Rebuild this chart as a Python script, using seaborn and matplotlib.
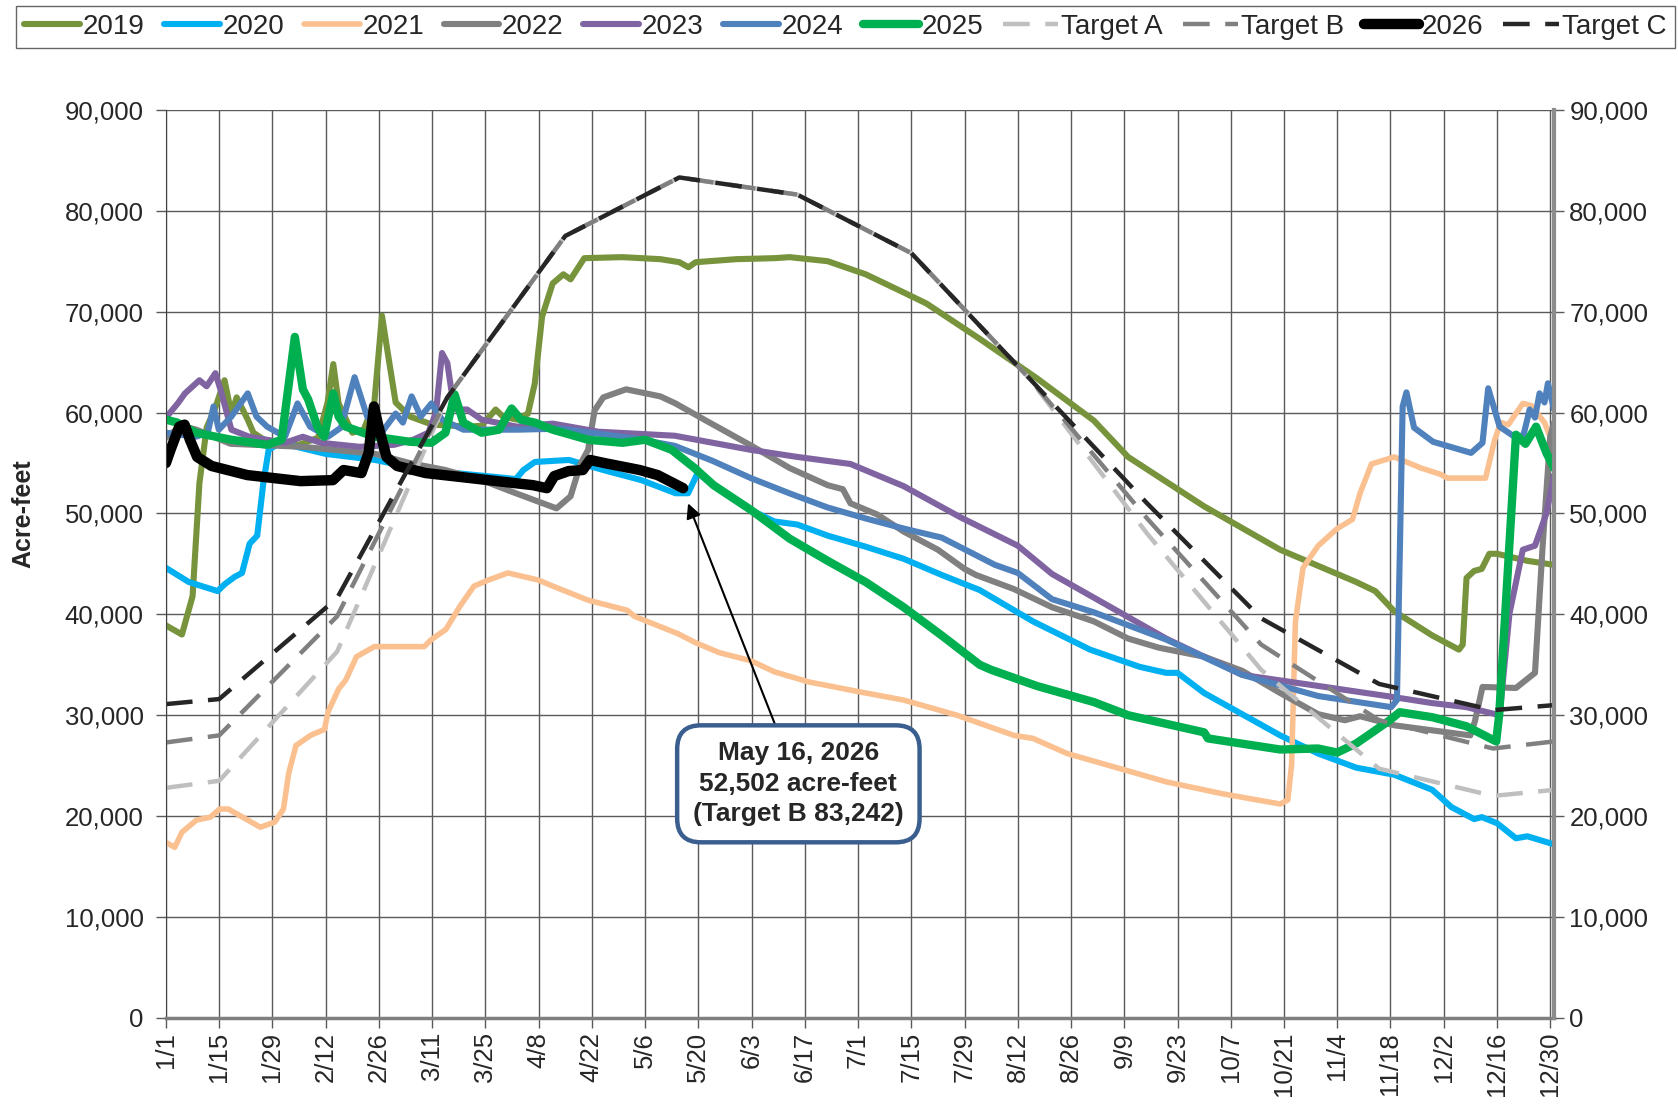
import matplotlib
matplotlib.use('Agg')
import matplotlib.pyplot as plt
import matplotlib.ticker as mticker
import seaborn as sns

# day of year (0 = 1/1, leap-year calendar) and storage in acre-feet
days_2019 = [0, 4.2, 7, 8.8, 10.7, 13, 15.4, 17.2, 18.6, 21.5, 23, 27, 35, 40, 42.5, 44, 45.4, 49, 52,
             54.8, 56.8, 58.5, 60.4, 64.2, 70, 80, 83, 86.7, 88.6, 92.3, 95.2, 97, 98.9, 101.7, 104.5,
             106.4, 110, 120, 130, 135, 137.4, 139.3, 150, 160, 164, 174, 184, 194, 200, 214, 229,
             244, 253, 273, 293, 313, 318, 323, 333, 336, 340, 341, 342, 344, 346, 348, 350, 358, 365]
vals_2019 = [38900, 38000, 41800, 53000, 58500, 60500, 63200, 59900, 61500, 59300, 58000, 57000, 56800,
             57500, 61000, 64800, 60900, 58000, 58300, 61000, 69600, 65500, 61000, 59600, 58800, 58600,
             58700, 60300, 59600, 59300, 59900, 62900, 69500, 72800, 73700, 73200, 75300, 75400, 75200,
             74900, 74400, 74900, 75200, 75300, 75400, 75000, 73700, 71900, 70800, 67300, 63400, 59200,
             55600, 50700, 46400, 43200, 42300, 40300, 37900, 37300, 36500, 37000, 43600, 44300, 44500,
             46000, 46000, 45300, 44900]

days_2020 = [0, 6, 13.6, 15.5, 18, 20, 22, 24, 25.6, 27, 30, 42, 55, 68, 87, 92, 94, 97, 106, 115, 125,
             134, 137.3, 139.8, 144, 154, 160, 166, 174, 184, 194, 204, 214, 228, 243, 256, 263, 266,
             273, 283, 293, 303, 313, 323, 333, 338, 344, 346, 350, 355, 358, 365]
vals_2020 = [44600, 43200, 42300, 43000, 43700, 44100, 47000, 47800, 53000, 56300, 57000, 55900, 55300,
             54300, 53600, 53400, 54300, 55100, 55300, 54300, 53300, 52000, 52000, 54000, 52800, 50300,
             49200, 48900, 47800, 46700, 45500, 43900, 42400, 39300, 36500, 34800, 34200, 34200, 32200,
             30100, 28000, 26200, 24800, 24100, 22600, 20900, 19700, 19900, 19300, 17800, 18000, 17200]

days_2021 = [0, 2.3, 4.2, 8, 11.7, 14.1, 16.4, 24.8, 28.6, 30.9, 32.3, 34.2, 38, 41.7, 42.6, 45.4, 47.3,
             50.1, 54.8, 67.9, 69.8, 73.6, 77.3, 81, 84.8, 89.9, 97.9, 101.7, 111, 121.3, 123.2, 134.5,
             139.2, 145.5, 153.8, 160, 169, 184, 194, 208, 223, 228, 237, 250, 263, 278, 293, 295, 296,
             297, 299, 303, 308, 312, 314, 317, 323, 330, 335, 337, 347, 349.4, 351, 353, 356.8, 359,
             362.5, 365]
vals_2021 = [17400, 16900, 18400, 19600, 19900, 20700, 20700, 18900, 19400, 20700, 24300, 27000, 28000,
             28600, 30300, 32600, 33500, 35800, 36800, 36800, 37500, 38500, 40800, 42800, 43400, 44100,
             43400, 42800, 41400, 40400, 39800, 38100, 37200, 36200, 35400, 34300, 33300, 32200, 31500,
             30000, 28000, 27700, 26200, 24800, 23400, 22200, 21200, 21600, 25100, 39300, 44600, 46800,
             48500, 49400, 52000, 54900, 55600, 54500, 53900, 53500, 53500, 57300, 59000, 58800, 60900,
             60700, 59000, 56600]

days_2022 = [0, 4, 8, 17, 36, 55, 64, 73.5, 83, 92, 102.7, 106.4, 109, 111, 112.7, 115, 121, 130, 134,
             142, 154, 164, 174, 178, 180, 187, 194, 203, 210, 213, 223, 233, 244, 253, 261, 273, 283,
             293, 303, 310, 314, 323, 333, 343, 344.2, 346.2, 355, 360, 362, 364, 365]
vals_2022 = [57500, 58700, 58300, 56900, 56600, 55900, 55000, 54300, 53300, 52000, 50500, 51700, 54900,
             56300, 60200, 61500, 62300, 61600, 60900, 59200, 56700, 54500, 52800, 52400, 51000, 49900,
             48200, 46400, 44500, 43900, 42500, 40700, 39300, 37600, 36700, 35800, 34400, 32200, 30100,
             29500, 29900, 29000, 28500, 28000, 29400, 32800, 32700, 34200, 46700, 57600, 59000]

days_2023 = [0, 3.1, 5, 8.8, 10.7, 13, 14.4, 17.2, 21.9, 31.3, 36, 40.7, 51, 60, 65, 69, 71, 72.6, 74,
             75, 76.4, 79.2, 83, 92.3, 101.7, 113.7, 133.8, 153.8, 166, 180, 194, 209, 224, 233, 248,
             263, 283, 303, 321, 333, 342, 350.7, 353.3, 356.8, 360, 363, 365]
vals_2023 = [59500, 60900, 61900, 63200, 62600, 63900, 62200, 58300, 57600, 57000, 57600, 57000, 56600,
             56800, 57300, 58000, 60000, 65900, 64900, 62300, 60300, 60300, 59300, 58600, 58900, 58100,
             57700, 56300, 55600, 54900, 52700, 49600, 46800, 44000, 40800, 37600, 34000, 32900, 31900,
             31200, 30800, 30000, 40100, 46400, 46800, 50000, 53800]

days_2024 = [0, 7.8, 11, 12.5, 13.9, 17.2, 21.5, 23.8, 26.6, 31.3, 34.6, 37.9, 42.6, 46, 49.6, 52.9,
             56.7, 60.4, 62.3, 64.6, 67, 69.8, 72.6, 78.2, 92.3, 103.7, 123.7, 133.8, 143.8, 153.8,
             163.9, 173.9, 184, 194, 204, 218, 224, 233, 244, 263, 283, 303, 322.2, 323.7, 325.2, 326.2,
             328.2, 333.2, 343.2, 346.2, 347.7, 350.7, 355, 357, 358.6, 360, 361.2, 362.5, 363.4, 365]
vals_2024 = [58000, 57600, 58000, 60600, 58300, 59600, 61900, 59600, 58600, 57600, 60900, 58600, 57600,
             58500, 63500, 59600, 58000, 59900, 59000, 61600, 59600, 60900, 59300, 58300, 58300, 58400,
             57400, 56700, 55200, 53500, 52000, 50600, 49500, 48500, 47600, 44900, 44100, 41500, 40200,
             37500, 34000, 31900, 30800, 31500, 60600, 62000, 58500, 57100, 56000, 57000, 62400, 58600,
             57500, 57800, 60300, 59500, 61900, 61000, 62900, 60300]

days_2025 = [0, 3, 7.8, 17.2, 26.6, 30.4, 33.9, 36, 37.4, 39.8, 41.6, 44, 45.4, 47.3, 54.8, 64.2, 69.8,
             73.5, 75.9, 78.2, 83, 87.6, 90.9, 93.3, 97, 101.7, 111, 120, 126, 133, 139, 144, 154, 164,
             174, 184, 194, 204, 214, 217, 229, 244, 253, 273, 274, 293, 303, 308, 313, 318, 321.8,
             324.4, 333, 342, 349.8, 350.6, 355, 357.5, 360.3, 363, 365]
vals_2025 = [59300, 59000, 58000, 57300, 56800, 57300, 67500, 62300, 61300, 58600, 57600, 61900, 59600,
             58600, 57600, 57100, 57000, 58000, 61800, 59000, 58000, 58300, 60400, 59300, 59000, 58300,
             57300, 57000, 57300, 56300, 54500, 52800, 50300, 47500, 45300, 43200, 40700, 37900, 35000,
             34500, 32900, 31300, 30000, 28300, 27700, 26600, 26700, 26300, 27200, 28500, 29500, 30300,
             29800, 28900, 27400, 30100, 57800, 56900, 58600, 56000, 54500]

days_2026 = [0, 1.2, 3.5, 4.9, 6.3, 8.2, 12, 21.4, 35.4, 43.9, 46.7, 51.4, 53.3, 54.7, 55.9, 58, 60.8,
             68.3, 87.1, 96.5, 100.2, 102.1, 105.9, 109.6, 111.5, 115.2, 124.6, 129.3, 136]
vals_2026 = [55000, 56300, 58600, 58800, 57300, 55600, 54700, 53800, 53200, 53300, 54300, 54000, 56000,
             60600, 58600, 55600, 54700, 54000, 53200, 52800, 52500, 53700, 54200, 54300, 55300, 55000,
             54300, 53800, 52502]

# targets, set on the 15th of each month
target_days = [0, 14, 45, 74, 105, 135, 166, 196, 227, 258, 288, 319, 349, 365]
target_a = [22800, 23500, 36300, 61500, 77500, 83300, 81600, 75800, 63400, 48000, 34500, 24700, 22000, 22600]
target_b = [27300, 28000, 39800, 61500, 77500, 83300, 81600, 75800, 63400, 49500, 37000, 29500, 26700, 27400]
target_c = [31100, 31600, 41600, 61500, 77500, 83300, 81600, 75800, 63400, 51000, 39600, 33100, 30500, 31000]

tick_labels = ['1/1', '1/15', '1/29', '2/12', '2/26', '3/11', '3/25', '4/8', '4/22', '5/6', '5/20',
               '6/3', '6/17', '7/1', '7/15', '7/29', '8/12', '8/26', '9/9', '9/23', '10/7', '10/21',
               '11/4', '11/18', '12/2', '12/16', '12/30']

sns.set_style('ticks')
plt.rcParams['font.family'] = ['Liberation Sans', 'DejaVu Sans']

fig = plt.figure(figsize=(16.78, 11.04), dpi=100)
ax = fig.add_axes([0.0989, 0.078, 0.8272, 0.8225])

dash = (0, (6, 3.5))
series = [
    ('2019', days_2019, vals_2019, '#77933C', 4.4, '-'),
    ('2020', days_2020, vals_2020, '#00B0F0', 4.4, '-'),
    ('2021', days_2021, vals_2021, '#FAC090', 4.0, '-'),
    ('2022', days_2022, vals_2022, '#808080', 4.4, '-'),
    ('2023', days_2023, vals_2023, '#8064A2', 4.4, '-'),
    ('2024', days_2024, vals_2024, '#4F81BD', 4.4, '-'),
    ('2025', days_2025, vals_2025, '#00B050', 6.0, '-'),
    ('Target A', target_days, target_a, '#BFBFBF', 3.2, dash),
    ('Target B', target_days, target_b, '#808080', 3.2, dash),
    ('2026', days_2026, vals_2026, '#000000', 7.5, '-'),
    ('Target C', target_days, target_c, '#262626', 3.2, dash),
]
for name, xs, ys, col, lw, ls in series:
    sns.lineplot(x=xs, y=ys, ax=ax, color=col, linewidth=lw, linestyle=ls, label=name,
                 sort=False, estimator=None, errorbar=None, solid_capstyle='round')

handles, labels = ax.get_legend_handles_labels()
if ax.get_legend() is not None:
    ax.get_legend().remove()

ax.set_xlim(0, 365)
ax.set_ylim(0, 90000)
ax.set_xticks(list(range(0, 365, 14)))
ax.set_xticklabels(tick_labels, rotation=90)
ax.set_yticks(list(range(0, 90001, 10000)))
ax.yaxis.set_major_formatter(mticker.StrMethodFormatter('{x:,.0f}'))
ax.grid(True, color='#5a5a5a', linewidth=1.0)
ax.set_axisbelow(True)
ax.set_xlabel('')
ax.set_ylabel('')
ax.tick_params(axis='y', direction='out', length=7, width=1, labelsize=18.5, pad=9, color='#595959')
ax.tick_params(axis='x', direction='out', length=7, width=1, labelsize=18.5, pad=3, color='#595959')
ax.spines['top'].set_visible(False)
ax.spines['right'].set_visible(False)
ax.spines['left'].set_color('#404040')
ax.spines['bottom'].set_color('#7f7f7f')
ax.spines['bottom'].set_linewidth(2.5)

ax2 = ax.twinx()
ax2.set_ylim(0, 90000)
ax2.set_yticks(list(range(0, 90001, 10000)))
ax2.yaxis.set_major_formatter(mticker.StrMethodFormatter('{x:,.0f}'))
ax2.grid(False)
ax2.tick_params(axis='y', direction='out', length=7, width=1, labelsize=18.5, pad=4, color='#595959')
for s in ['top', 'left', 'bottom']:
    ax2.spines[s].set_visible(False)
ax2.spines['right'].set_color('#8c8c8c')
ax2.spines['right'].set_linewidth(3)

fig.text(0.014, 0.535, 'Acre-feet', rotation=90, ha='center', va='center',
         fontsize=18, fontweight='bold')

ax.annotate('May 16, 2026\n52,502 acre-feet\n(Target B 83,242)',
            xy=(137.3, 51000), xytext=(166.3, 23200), textcoords='data',
            ha='center', va='center', fontsize=19, fontweight='bold', linespacing=1.35,
            bbox=dict(boxstyle='round,pad=0.6,rounding_size=0.9', fc='white', ec='#3A5F8F', lw=3.2),
            arrowprops=dict(arrowstyle='-|>', color='black', lw=1.5, mutation_scale=22,
                            shrinkA=0, shrinkB=0),
            zorder=10)

fig.legend(handles, labels, loc='upper left', bbox_to_anchor=(0.0095, 0.956, 0.9885, 0.039),
           mode='expand', ncol=11, fontsize=20, frameon=True, fancybox=False,
           edgecolor='#404040', handlelength=2.0, handletextpad=0.1, borderpad=0.3,
           columnspacing=0.3, borderaxespad=0)

fig.savefig('out.png', dpi=100, facecolor='white')
